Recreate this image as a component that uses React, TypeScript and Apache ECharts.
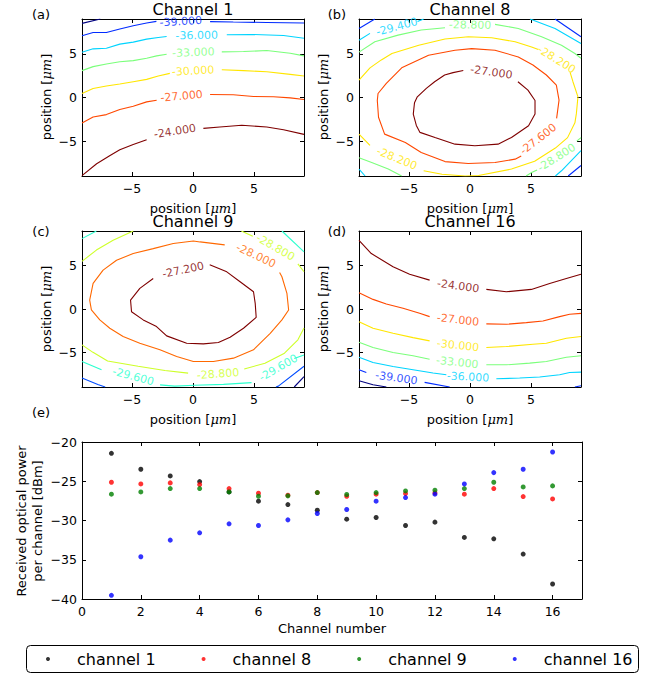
import React, { useEffect, useRef } from "react";
import * as echarts from "echarts";

const FONT = "'DejaVu Sans', sans-serif";

// ---------- tick values ----------
const POS_TICKS = [-5, 0, 5];
const POS_X_RANGE = [-9.1, 9.1];
const POS_Y_RANGE = [-9, 9];
const CH_TICKS = [0, 2, 4, 6, 8, 10, 12, 14, 16];
const CH_RANGE = [0, 17];
const PWR_TICKS = [-40, -35, -30, -25, -20];
const PWR_RANGE = [-40, -20];

// ---------- panel titles ----------
const panelTitles = ["Channel 1", "Channel 8", "Channel 9", "Channel 16"];
const panelTags = ["(a)", "(b)", "(c)", "(d)", "(e)"];

// ---------- jet colours for the contour levels ----------
const JET7 = ["#00007f", "#002bff", "#00d4ff", "#7bff7b", "#ffe600", "#ff4800", "#7f0000"];
const JET6 = ["#00007f", "#004cff", "#29ffce", "#ceff29", "#ff6800", "#7f0000"];

// ---------- contour levels ----------
const levelsCh1 = [-42, -39, -36, -33, -30, -27, -24];
const levelsCh8 = [-30.6, -30.0, -29.4, -28.8, -28.2, -27.6, -27.0];
const levelsCh9 = [-31.2, -30.4, -29.6, -28.8, -28.0, -27.2];
const levelsCh16 = [-42, -39, -36, -33, -30, -27, -24];

// ---------- contour lines (x, y in µm) ----------
const contoursCh1 = [
  { level: -42, segs: [[[-9.1, 8.5], [-7.6, 9.0]]] },
  { level: -39, segs: [
    [[-9.1, 7.08], [-8.19, 7.46], [-7.1, 7.46], [-6.0, 7.85], [-4.9, 8.23], [-3.8, 8.54], [-3.0, 8.73]],
    [[1.4, 8.7], [3.3, 8.65], [6.05, 8.6], [9.1, 8.54]],
  ] },
  { level: -36, segs: [
    [[-9.1, 5.19], [-8.19, 5.58], [-7.1, 5.65], [-6.0, 6.12], [-4.9, 6.35], [-3.8, 6.69], [-2.85, 6.88], [-2.16, 7.0]],
    [[2.77, 7.19], [4.68, 7.23], [7.42, 7.1], [9.1, 6.8]],
  ] },
  { level: -33, segs: [
    [[-9.1, 3.08], [-8.19, 3.54], [-7.1, 3.85], [-6.0, 4.1], [-4.9, 4.23], [-3.8, 4.5], [-2.98, 4.77], [-2.16, 4.96]],
    [[2.36, 5.23], [4.14, 5.27], [6.05, 5.38], [7.97, 5.08], [9.1, 4.77]],
  ] },
  { level: -30, segs: [
    [[-9.1, 0.46], [-8.19, 1.04], [-7.1, 1.31], [-6.0, 1.54], [-4.9, 1.81], [-3.8, 2.08], [-2.85, 2.46], [-1.9, 2.77]],
    [[2.36, 3.19], [4.14, 3.08], [6.05, 2.96], [7.97, 2.65], [9.1, 2.46]],
  ] },
  { level: -27, segs: [
    [[-9.1, -2.92], [-8.19, -2.23], [-7.1, -1.96], [-6.0, -1.38], [-4.9, -1.0], [-3.8, -0.5], [-2.98, -0.31]],
    [[1.4, 0.35], [3.3, 0.31], [4.96, 0.12], [6.6, 0.08], [7.97, -0.04], [9.1, -0.23]],
  ] },
  { level: -24, segs: [
    [[-9.1, -8.96], [-7.9, -7.6], [-6.8, -6.65], [-6.0, -6.0], [-4.9, -5.38], [-3.8, -4.85]],
    [[0.85, -3.54], [2.2, -3.38], [4.0, -3.19], [6.05, -3.38], [7.42, -3.69], [9.1, -4.23]],
  ] },
];
const labelsCh1 = [
  { level: -39, text: "-39.000", at: [-1.0, 8.7], rot: 3 },
  { level: -36, text: "-36.000", at: [0.3, 7.1], rot: 1 },
  { level: -33, text: "-33.000", at: [0.03, 5.15], rot: 2 },
  { level: -30, text: "-30.000", at: [0.0, 3.04], rot: 3 },
  { level: -27, text: "-27.000", at: [-0.93, 0.15], rot: 5 },
  { level: -24, text: "-24.000", at: [-1.48, -3.88], rot: 9 },
];

const contoursCh8 = [
  { level: -30.0, segs: [
    [[-9.1, 7.92], [-7.8, 9.0]],
    [[6.97, 9.0], [9.1, 6.96]],
    [[9.1, -7.8], [8.05, -9.0]],
  ] },
  { level: -29.4, segs: [
    [[-9.1, 6.57], [-8.2, 7.35]],
    [[-4.3, 8.7], [-3.8, 9.0]],
    [[4.92, 9.0], [6.97, 7.92], [9.1, 6.2]],
    [[-9.1, -8.2], [-8.6, -9.0]],
    [[9.1, -6.1], [7.5, -8.4], [7.0, -9.0]],
  ] },
  { level: -28.8, segs: [
    [[-9.1, 5.2], [-7.8, 6.4], [-5.9, 7.15], [-4.0, 7.73], [-2.05, 8.0]],
    [[2.05, 8.38], [3.96, 7.92], [5.87, 6.96], [7.5, 6.0], [8.6, 5.04], [9.1, 4.5]],
    [[-9.1, -6.9], [-8.06, -7.46], [-6.7, -8.2], [-5.6, -9.0]],
    [[9.1, -4.6], [8.75, -5.0]],
    [[5.5, -8.3], [5.05, -8.6], [4.6, -9.0]],
  ] },
  { level: -28.2, segs: [
    [[-9.1, 2.0], [-8.2, 3.4], [-7.27, 4.31], [-6.4, 5.04], [-4.2, 6.0], [-2.05, 6.7], [-0.14, 6.96], [1.78, 6.85], [3.7, 6.4], [5.05, 5.8], [5.6, 5.5]],
    [[8.2, 2.9], [8.44, 1.81], [8.85, 0.08], [8.72, -1.85], [8.6, -2.9], [8.0, -4.6], [7.0, -5.8], [5.3, -7.3], [3.4, -8.2], [0.7, -8.95], [-0.4, -9.0], [-2.3, -8.8], [-3.8, -8.4]],
    [[-8.2, -5.5], [-9.1, -4.19]],
  ] },
  { level: -27.6, segs: [
    [[7.1, -2.4], [7.3, -0.3], [7.08, 1.42], [6.26, 2.58], [5.16, 3.73], [3.96, 4.65], [2.05, 5.42], [0.14, 5.6], [-1.23, 5.42], [-3.4, 4.85], [-5.6, 3.4], [-6.86, 1.62], [-7.54, 0.46], [-7.6, -0.35], [-7.5, -2.27], [-7.0, -4.2], [-5.3, -5.15], [-4.0, -6.3], [-2.05, -7.35], [-0.15, -7.57], [2.05, -7.46], [3.7, -7.07], [4.2, -6.7]],
  ] },
  { level: -27.0, segs: [
    [[-0.55, 3.1], [-1.39, 2.85], [-2.08, 2.58], [-2.9, 1.81], [-3.58, 1.04], [-4.32, 0.08], [-4.55, -0.6], [-4.65, -1.9], [-4.4, -3.2], [-4.1, -4.0], [-2.87, -4.58], [-1.23, -5.35], [0.4, -5.54], [2.3, -5.35], [3.4, -4.58], [4.8, -3.23], [5.33, -1.9], [5.33, -0.35], [4.75, 0.85], [3.93, 1.81]],
  ] },
];
const labelsCh8 = [
  { level: -29.4, text: "-29.400", at: [-6.0, 8.1], rot: 15 },
  { level: -28.8, text: "-28.800", at: [0.0, 8.3], rot: -1 },
  { level: -28.2, text: "-28.200", at: [7.1, 4.35], rot: -32 },
  { level: -27.0, text: "-27.000", at: [1.75, 2.9], rot: -8 },
  { level: -27.6, text: "-27.600", at: [5.6, -4.77], rot: 38 },
  { level: -28.2, text: "-28.200", at: [-6.0, -7.0], rot: -22 },
  { level: -28.8, text: "-28.800", at: [7.1, -6.9], rot: 32 },
];

const contoursCh9 = [
  { level: -31.2, segs: [[[9.1, -7.8], [8.3, -9.0]]] },
  { level: -30.4, segs: [
    [[-9.1, -7.97], [-7.8, -8.7], [-7.2, -9.0]],
    [[9.1, -6.6], [7.0, -8.9], [6.8, -9.0]],
  ] },
  { level: -29.6, segs: [
    [[-9.1, 8.12], [-7.92, 9.0]],
    [[7.29, 9.0], [9.1, 6.59]],
    [[-9.1, -6.06], [-7.5, -7.0]],
    [[-2.7, -8.75], [-1.5, -8.9], [0.14, -8.8], [2.5, -8.7], [4.8, -8.5]],
    [[8.3, -5.7], [9.1, -5.3]],
  ] },
  { level: -28.8, segs: [
    [[-9.1, 5.5], [-7.92, 6.8], [-6.55, 7.93], [-4.9, 9.0]],
    [[3.96, 9.0], [4.9, 8.4]],
    [[8.6, 5.2], [9.1, 4.3]],
    [[-9.1, -4.14], [-8.2, -5.0], [-7.0, -6.0], [-4.5, -6.6], [-2.3, -7.1], [-0.4, -7.4]],
    [[4.2, -6.93], [5.9, -6.25], [7.5, -5.1], [8.6, -3.56], [9.1, -2.2]],
  ] },
  { level: -28.0, segs: [
    [[2.6, 7.4], [0.58, 7.74], [0.03, 7.85], [-1.62, 7.55], [-3.26, 6.97], [-4.9, 6.4], [-6.27, 5.63], [-7.37, 4.48], [-8.19, 2.95], [-8.47, 1.03], [-8.33, -0.11], [-7.64, -1.26], [-6.82, -2.22], [-5.73, -3.18], [-4.36, -3.95], [-2.71, -4.71], [-1.34, -5.48], [0.03, -6.05], [1.67, -6.05], [3.32, -5.67], [4.96, -4.71], [6.33, -2.8], [7.29, -1.26], [7.84, -0.11], [7.7, 1.8], [7.29, 3.72], [7.1, 4.2]],
  ] },
  { level: -27.2, segs: [
    [[1.37, 5.1], [2.77, 4.29], [3.86, 3.14], [4.96, 1.99], [5.1, 0.65], [5.18, -0.96], [4.14, -2.22], [3.04, -3.26], [2.08, -3.87], [0.85, -4.02], [-0.52, -3.95], [-2.16, -3.1], [-2.99, -2.03], [-4.08, -1.26], [-5.04, -0.31], [-5.12, 1.03], [-4.36, 2.38], [-3.26, 3.52]],
  ] },
];
const labelsCh9 = [
  { level: -27.2, text: "-27.200", at: [-0.8, 4.5], rot: 12 },
  { level: -28.0, text: "-28.000", at: [5.16, 6.15], rot: -25 },
  { level: -28.8, text: "-28.800", at: [6.75, 7.1], rot: -30 },
  { level: -28.8, text: "-28.800", at: [2.05, -7.5], rot: 4 },
  { level: -29.6, text: "-29.600", at: [-4.9, -7.8], rot: -15 },
  { level: -29.6, text: "-29.600", at: [7.0, -6.8], rot: 30 },
];

const contoursCh16 = [
  { level: -42, segs: [[[-9.1, -8.28], [-7.95, -8.74], [-6.86, -9.0]]] },
  { level: -39, segs: [
    [[-9.1, -7.01], [-8.5, -7.32]],
    [[-3.72, -8.47], [-1.67, -9.0]],
    [[8.6, -9.0], [9.1, -8.85]],
  ] },
  { level: -36, segs: [
    [[-9.1, -5.56], [-7.95, -6.17], [-6.31, -6.63], [-4.67, -7.01], [-3.03, -7.39], [-1.94, -7.59]],
    [[2.16, -8.05], [4.07, -7.97], [5.71, -7.85], [7.35, -7.59], [8.17, -7.32], [9.1, -7.28]],
  ] },
  { level: -33, segs: [
    [[-9.1, -3.83], [-7.95, -4.44], [-6.31, -5.02], [-4.67, -5.4], [-3.31, -5.79]],
    [[1.34, -6.44], [2.98, -6.44], [4.89, -6.25], [6.26, -6.05], [7.9, -5.56], [9.1, -5.4]],
  ] },
  { level: -30, segs: [
    [[-9.1, -1.46], [-7.95, -2.22], [-6.31, -2.8], [-4.67, -3.3], [-3.31, -3.68]],
    [[1.34, -4.44], [2.98, -4.33], [5.16, -4.06], [6.26, -3.95], [7.9, -3.37], [9.1, -3.18]],
  ] },
  { level: -27, segs: [
    [[-9.1, 1.88], [-7.95, 1.11], [-6.86, 0.57], [-5.49, 0.08], [-4.13, -0.5], [-3.31, -0.88]],
    [[1.34, -1.72], [2.98, -1.76], [4.62, -1.57], [5.98, -1.38], [7.35, -0.88], [8.17, -0.61], [9.1, -0.5]],
  ] },
  { level: -24, segs: [
    [[-9.1, 7.93], [-8.09, 6.4], [-6.31, 4.87], [-4.95, 4.02], [-3.31, 3.33]],
    [[1.34, 2.26], [2.98, 1.99], [5.03, 2.26], [6.53, 2.95], [7.9, 3.52], [9.1, 4.02]],
  ] },
];
const labelsCh16 = [
  { level: -24, text: "-24.000", at: [-0.98, 2.64], rot: -8 },
  { level: -27, text: "-27.000", at: [-0.98, -1.26], rot: -6 },
  { level: -30, text: "-30.000", at: [-0.98, -4.21], rot: -6 },
  { level: -33, text: "-33.000", at: [-1.04, -6.17], rot: -6 },
  { level: -36, text: "-36.000", at: [-0.16, -7.85], rot: -3 },
  { level: -39, text: "-39.000", at: [-6.04, -7.97], rot: -8 },
];

// ---------- received power per channel (dBm) ----------
const channelNumbers = [1, 2, 3, 4, 5, 6, 7, 8, 9, 10, 11, 12, 13, 14, 15, 16];
const powerCh1 = [-21.44, -23.47, -24.32, -25.04, -26.36, -27.54, -27.97, -28.69, -29.83, -29.62, -30.64, -30.21, -32.16, -32.33, -34.28, -38.09];
const powerCh8 = [-25.13, -25.34, -25.21, -25.42, -25.93, -26.53, -26.78, -26.44, -26.91, -26.65, -26.57, -26.48, -26.65, -25.93, -26.95, -27.25];
const powerCh9 = [-26.65, -26.36, -25.93, -25.93, -26.36, -26.91, -26.86, -26.44, -26.69, -26.44, -26.23, -26.14, -25.93, -25.13, -25.72, -25.59];
const powerCh16 = [-39.53, -34.62, -32.5, -31.57, -30.42, -30.64, -29.92, -29.11, -28.6, -27.54, -27.08, -26.65, -25.34, -23.9, -23.47, -21.27];
const seriesNames = ["channel 1", "channel 8", "channel 9", "channel 16"];
const seriesColors = ["#000000", "#ff0000", "#008000", "#0000ff"];

// ---------- layout ----------
const GRIDS = [
  { left: 82, top: 19, width: 222, height: 157 },
  { left: 359, top: 19, width: 222, height: 157 },
  { left: 82, top: 231, width: 222, height: 156 },
  { left: 359, top: 231, width: 222, height: 156 },
  { left: 82, top: 442, width: 500, height: 157 },
];

const fmtTick = (v: number) => (v < 0 ? "\u2212" + Math.abs(v) : String(v));

function axisPair(kind: "x" | "y", grid: number, range: number[], ticks: number[]) {
  const base = (pos: string, labels: boolean) => ({
    type: "value",
    gridIndex: grid,
    position: pos,
    min: range[0],
    max: range[1],
    axisLine: { show: true, onZero: false, lineStyle: { color: "#000", width: 1 } },
    axisTick: { show: true, inside: true, length: 4, customValues: ticks, lineStyle: { color: "#000", width: 1 } },
    axisLabel: {
      show: labels,
      customValues: ticks,
      margin: kind === "x" ? 6 : 5,
      color: "#000",
      fontFamily: FONT,
      fontSize: 12.5,
      formatter: (v: number) => fmtTick(v),
    },
    splitLine: { show: false },
  });
  return kind === "x" ? [base("bottom", true), base("top", false)] : [base("left", true), base("right", false)];
}

function contourSeries(panel: number, contours: any[], labels: any[], levels: number[], colors: string[]) {
  const out: any[] = [];
  const colorOf = (lv: number) => colors[levels.findIndex((l) => Math.abs(l - lv) < 1e-6)];
  contours.forEach((c) => {
    c.segs.forEach((seg: number[][]) => {
      out.push({
        type: "line",
        xAxisIndex: panel * 2,
        yAxisIndex: panel * 2,
        data: seg,
        showSymbol: false,
        symbol: "none",
        silent: true,
        lineStyle: { color: colorOf(c.level), width: 1.1 },
        z: 2,
      });
    });
  });
  out.push({
    type: "scatter",
    xAxisIndex: panel * 2,
    yAxisIndex: panel * 2,
    silent: true,
    symbolSize: 1,
    itemStyle: { color: "rgba(0,0,0,0)" },
    z: 3,
    label: {
      show: true,
      position: "inside",
      fontFamily: FONT,
      fontSize: 11,
      formatter: (p: any) => p.data.text,
    },
    data: labels.map((l) => ({
      value: l.at,
      text: l.text,
      label: { rotate: l.rot, color: colorOf(l.level) },
    })),
  });
  return out;
}

export default function App() {
  const ref = useRef<HTMLDivElement>(null);

  useEffect(() => {
    document.body.style.margin = "0";
    if (!ref.current) return;
    const chart = echarts.init(ref.current, null, { renderer: "svg" });

    const xAxes: any[] = [];
    const yAxes: any[] = [];
    for (let i = 0; i < 4; i++) {
      xAxes.push(...axisPair("x", i, POS_X_RANGE, POS_TICKS));
      yAxes.push(...axisPair("y", i, POS_Y_RANGE, POS_TICKS));
    }
    xAxes.push(...axisPair("x", 4, CH_RANGE, CH_TICKS));
    yAxes.push(...axisPair("y", 4, PWR_RANGE, PWR_TICKS));

    const powers = [powerCh1, powerCh8, powerCh9, powerCh16];
    const scatter = powers.map((p, i) => ({
      type: "scatter",
      name: seriesNames[i],
      xAxisIndex: 8,
      yAxisIndex: 8,
      symbol: "circle",
      symbolSize: 5,
      itemStyle: { color: seriesColors[i] },
      data: channelNumbers.map((c, k) => [c, p[k]]),
      z: 4 + i,
    }));

    const text = (t: string, x: number, y: number, size: number, extra: any = {}) => ({
      type: "text",
      x,
      y,
      silent: true,
      ...extra,
      style: {
        text: t,
        fill: "#000",
        fontFamily: FONT,
        fontSize: size,
        align: "center",
        verticalAlign: "middle",
        rich: { i: { fontStyle: "italic", fontFamily: "'DejaVu Serif', serif", fontSize: size, fill: "#000" } },
        ...(extra.style || {}),
      },
    });

    const posName = "position [{i|\u03bcm}]";
    const graphics: any[] = [
      text(panelTitles[0], 193, 9, 16),
      text(panelTitles[1], 470, 9, 16),
      text(panelTitles[2], 193, 221, 16),
      text(panelTitles[3], 470, 221, 16),
      text(panelTags[0], 41, 14, 13),
      text(panelTags[1], 337, 14, 13),
      text(panelTags[2], 41, 231, 13),
      text(panelTags[3], 337, 231, 13),
      text(panelTags[4], 41, 412, 13),
      text(posName, 193, 208, 13),
      text(posName, 470, 208, 13),
      text(posName, 193, 419, 13),
      text(posName, 470, 419, 13),
      text(posName, 46, 97, 13, { rotation: Math.PI / 2 }),
      text(posName, 323, 97, 13, { rotation: Math.PI / 2 }),
      text(posName, 46, 309, 13, { rotation: Math.PI / 2 }),
      text(posName, 323, 309, 13, { rotation: Math.PI / 2 }),
      text("Received optical power\nper channel [dBm]", 29, 521, 13, {
        rotation: Math.PI / 2,
        style: { lineHeight: 16 },
      }),
      text("Channel number", 332, 628, 13),
      {
        type: "rect",
        silent: true,
        shape: { x: 26.5, y: 645.5, width: 612, height: 27, r: 4 },
        style: { fill: "none", stroke: "#000", lineWidth: 1 },
      },
    ];

    chart.setOption({
      animation: false,
      backgroundColor: "#fff",
      grid: GRIDS.map((g) => ({ ...g, containLabel: false })),
      xAxis: xAxes,
      yAxis: yAxes,
      legend: {
        data: seriesNames,
        left: 46,
        top: 649,
        padding: 0,
        icon: "circle",
        itemWidth: 4,
        itemHeight: 4,
        itemGap: 46,
        selectedMode: false,
        textStyle: { fontFamily: FONT, fontSize: 16, color: "#000", lineHeight: 20, padding: [0, 0, 0, 22] },
      },
      graphic: graphics,
      series: [
        ...contourSeries(0, contoursCh1, labelsCh1, levelsCh1, JET7),
        ...contourSeries(1, contoursCh8, labelsCh8, levelsCh8, JET7),
        ...contourSeries(2, contoursCh9, labelsCh9, levelsCh9, JET6),
        ...contourSeries(3, contoursCh16, labelsCh16, levelsCh16, JET7),
        ...scatter,
      ],
    });

    return () => chart.dispose();
  }, []);

  return <div ref={ref} style={{ width: 649, height: 677 }} />;
}
